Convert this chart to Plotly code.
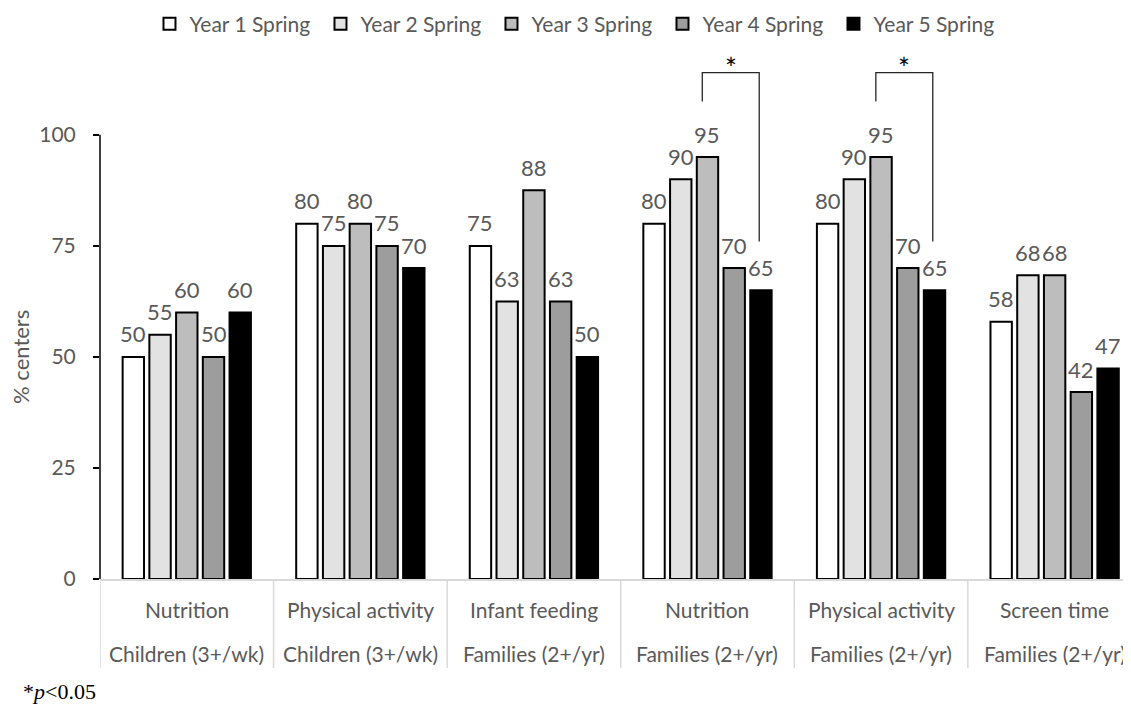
import plotly.graph_objects as go

topics = ["Nutrition", "Physical activity", "Infant feeding", "Nutrition", "Physical activity", "Screen time"]
groups = ["Children (3+/wk)", "Children (3+/wk)", "Families (2+/yr)", "Families (2+/yr)", "Families (2+/yr)", "Families (2+/yr)"]
series_names = ["Year 1 Spring", "Year 2 Spring", "Year 3 Spring", "Year 4 Spring", "Year 5 Spring"]
year1 = [50, 80, 75, 80, 80, 57.9]
year2 = [55, 75, 62.5, 90, 90, 68.4]
year3 = [60, 80, 87.5, 95, 95, 68.4]
year4 = [50, 75, 62.5, 70, 70, 42.1]
year5 = [60, 70, 50, 65, 65, 47.4]
y_ticks = [0, 25, 50, 75, 100]
sig_groups = [3, 4]          # categories with significant Year3 vs Year5 difference
sig_pair = (2, 4)            # series indices compared
footnote = "*<i>p</i>&lt;0.05"
y_title = "% centers"

colors = ["#ffffff", "#e2e2e2", "#bdbdbd", "#9d9d9d", "#000000"]
all_series = [year1, year2, year3, year4, year5]

GRAY = "#595959"
FONT = "Lato"
bargap = 0.23
groupgap = 0.2
n = len(all_series)
x = list(range(len(topics)))
YMAX = 120

slot = (1 - bargap) / n
def bar_center(cat, s):
    return cat - (1 - bargap) / 2 + (s + 0.5) * slot

fig = go.Figure()
annotations = []
for s, (name, vals, col) in enumerate(zip(series_names, all_series, colors)):
    fig.add_trace(go.Bar(
        x=x, y=vals, name=name,
        marker=dict(color=col, line=dict(color="#000000", width=2)),
    ))
    for i, v in zip(x, vals):
        annotations.append(dict(x=bar_center(i, s), y=v, xref="x", yref="y", text=f"{int(v + 0.5)}",
                                showarrow=False, yanchor="middle", yshift=23,
                                font=dict(color=GRAY, size=22, family=FONT)))

shapes = []

# category labels and dividers
for i in x:
    annotations.append(dict(x=i, y=0, xref="x", yref="paper", text=topics[i], showarrow=False,
                            yanchor="middle", yshift=-30, font=dict(color=GRAY, size=21, family=FONT)))
    annotations.append(dict(x=i, y=0, xref="x", yref="paper", text=groups[i], showarrow=False,
                            yanchor="middle", yshift=-74, font=dict(color=GRAY, size=21, family=FONT)))
for k in range(len(topics) + 1):
    shapes.append(dict(type="line", xref="x", yref="paper", x0=k - 0.5, x1=k - 0.5, y0=0, y1=-0.167,
                       line=dict(color="#d9d9d9", width=1.5)))

# y axis line up to 100 only
shapes.append(dict(type="line", xref="paper", yref="y", x0=0, x1=0, y0=0, y1=max(y_ticks),
                   line=dict(color="#000000", width=1.5)))

# significance brackets
for g in sig_groups:
    a, b = sig_pair
    xa = bar_center(g, a) - 0.03
    xb = bar_center(g, b) - 0.01
    top = 114
    shapes.append(dict(type="path", xref="x", yref="y",
                       path=f"M {xa},{107.5} L {xa},{top} L {xb},{top} L {xb},{76}",
                       line=dict(color="#262626", width=1.3)))
    annotations.append(dict(x=(xa + xb) / 2, y=top, xref="x", yref="y", text="*", showarrow=False,
                            yanchor="bottom", yshift=-14, font=dict(color="#000000", size=28, family=FONT)))

annotations.append(dict(x=0, y=0, xref="paper", yref="paper", text=footnote, showarrow=False,
                        xanchor="left", yanchor="middle", xshift=-79, yshift=-112,
                        font=dict(color="#000000", size=22, family="Liberation Serif")))
annotations.append(dict(x=0, y=0.5 * 100 / YMAX, xref="paper", yref="paper", text=y_title, showarrow=False,
                        xanchor="center", yanchor="middle", xshift=-79, textangle=-90,
                        font=dict(color=GRAY, size=22, family=FONT)))

fig.update_layout(
    width=1123, height=697,
    margin=dict(l=92, r=0, t=38, b=126, autoexpand=False),
    plot_bgcolor="white", paper_bgcolor="white",
    barmode="group", bargap=bargap, bargroupgap=groupgap,
    font=dict(family=FONT, color=GRAY, size=20),
    legend=dict(orientation="h", x=0.048, xanchor="left", y=1.041, yanchor="middle",
                font=dict(color=GRAY, size=21, family=FONT), itemwidth=30,
                entrywidth=126, entrywidthmode="pixels", traceorder="normal"),
    xaxis=dict(range=[-0.5, 5.44], showticklabels=False, ticks="", showgrid=False,
               showline=True, linecolor="#d9d9d9", linewidth=1.5, zeroline=False, fixedrange=True,
               automargin=False),
    yaxis=dict(range=[0, YMAX], tickvals=y_ticks, ticks="outside", ticklen=6, tickcolor="#000000",
               tickwidth=1.5, showline=False, showgrid=False, zeroline=False, automargin=False,
               ticklabelstandoff=13,
               tickfont=dict(color=GRAY, size=21, family=FONT)),
    shapes=shapes, annotations=annotations,
)

fig.write_html("out.html")
